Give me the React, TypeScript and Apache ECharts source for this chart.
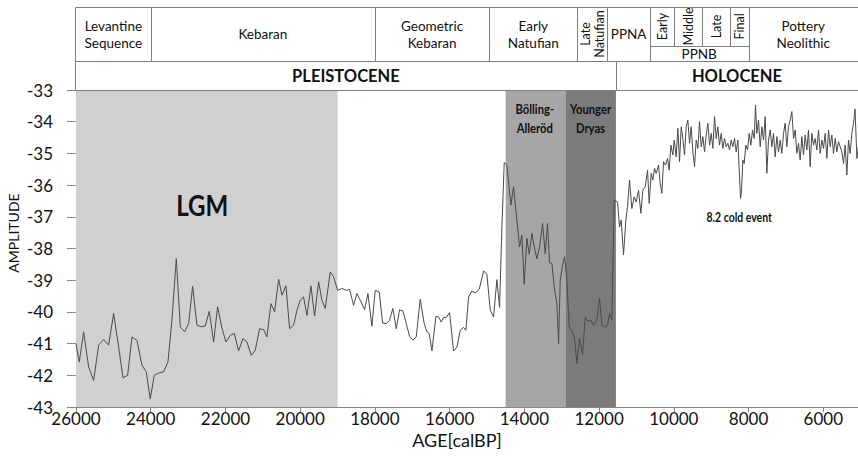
import React, { useEffect, useRef } from "react";
import * as echarts from "echarts";

const AGES = [
  26000, 25912, 25796, 25662, 25528, 25394, 25260, 25127, 24993, 24859, 24743, 24618, 24502, 24368, 24235, 24119,
  24012, 23905, 23789, 23655, 23539, 23432, 23316, 23209, 23093, 22986, 22879, 22763, 22647, 22540, 22433, 22317,
  22210, 22094, 21987, 21871, 21764, 21648, 21532, 21425, 21309, 21202, 21086, 20979, 20890, 20783, 20685, 20577,
  20488, 20381, 20283, 20176, 20087, 19998, 19909, 19819, 19712, 19614, 19507, 19418, 19329, 19195, 19106, 18999,
  18883, 18767, 18678, 18571, 18481, 18374, 18276, 18187, 18080, 17991, 17884, 17795, 17696, 17607, 17518, 17429,
  17340, 17250, 17161, 17072, 16983, 16894, 16787, 16680, 16608, 16546, 16474, 16367, 16296, 16225, 16162, 16091,
  16002, 15895, 15805, 15716, 15627, 15565, 15493, 15404, 15315, 15208, 15092, 15003, 14913, 14824, 14735, 14664,
  14601, 14539, 14468, 14360, 14289, 14218, 14128, 14066, 14004, 13932, 13870, 13798, 13736, 13665, 13593, 13513,
  13442, 13379, 13326, 13263, 13201, 13129, 13085, 13040, 12978, 12924, 12862, 12799, 12728, 12657, 12594, 12523,
  12443, 12371, 12300, 12220, 12148, 12059, 11988, 11925, 11854, 11774, 11720, 11658, 11595, 11506, 11453, 11408,
  11346, 11283, 11239, 11185, 11123, 11060, 11007, 10944, 10882, 10828, 10766, 10703, 10659, 10605, 10561, 10516,
  10471, 10409, 10364, 10320, 10275, 10222, 10168, 10124, 10079, 10025, 9990, 9936, 9892, 9847, 9802, 9758,
  9713, 9669, 9624, 9579, 9535, 9490, 9446, 9401, 9356, 9312, 9267, 9223, 9178, 9133, 9089, 9044,
  8999, 8955, 8910, 8866, 8821, 8777, 8732, 8687, 8643, 8598, 8554, 8509, 8464, 8420, 8375, 8331,
  8286, 8241, 8215, 8188, 8152, 8117, 8072, 8027, 7983, 7938, 7893, 7849, 7813, 7778, 7733, 7688,
  7644, 7599, 7555, 7510, 7466, 7421, 7376, 7332, 7287, 7242, 7198, 7153, 7109, 7064, 7019, 6975,
  6930, 6886, 6841, 6796, 6752, 6707, 6663, 6618, 6573, 6529, 6484, 6440, 6395, 6350, 6306, 6261,
  6217, 6172, 6127, 6083, 6038, 5994, 5949, 5904, 5860, 5815, 5770, 5726, 5681, 5637, 5592, 5547,
  5503, 5458, 5414, 5369, 5324, 5280, 5235, 5191, 5150, 5100, 5060, 5020, 4980,
];

const AMPLITUDE = [
  -41.0, -41.58, -40.63, -41.74, -42.16, -41.05, -40.87, -41.05, -40.05, -41.1, -42.08, -42.0, -40.79, -40.9, -41.68, -41.89,
  -42.74, -42.0, -41.93, -41.89, -41.58, -40.26, -38.32, -40.47, -40.63, -40.37, -39.19, -40.42, -40.47, -40.44, -39.98, -40.95,
  -39.84, -40.51, -40.95, -40.74, -40.68, -41.23, -40.84, -40.95, -41.37, -41.21, -40.53, -40.56, -40.79, -39.74, -40.0, -38.97,
  -39.47, -39.18, -40.53, -40.42, -39.95, -39.63, -39.53, -40.11, -39.18, -40.13, -39.05, -39.63, -39.89, -38.74, -38.89, -39.32,
  -39.26, -39.32, -39.29, -39.79, -39.42, -39.68, -39.93, -39.42, -40.45, -39.32, -39.37, -40.35, -40.37, -40.26, -39.89, -40.53,
  -39.93, -39.97, -40.37, -40.77, -40.89, -40.79, -39.6, -40.37, -40.63, -40.68, -41.23, -40.14, -40.16, -40.32, -40.18, -40.18,
  -40.02, -41.23, -41.11, -40.58, -40.49, -40.58, -39.53, -39.34, -39.4, -39.29, -38.71, -38.81, -39.95, -40.16, -38.98, -39.86,
  -37.32, -35.29, -35.37, -36.63, -36.05, -36.89, -37.95, -37.58, -39.13, -37.68, -38.18, -37.53, -37.95, -38.32, -37.95, -37.21,
  -38.16, -37.21, -38.45, -38.47, -39.21, -39.74, -41.0, -39.0, -38.53, -38.26, -39.0, -40.47, -40.6, -40.84, -41.63, -40.84,
  -41.35, -40.16, -40.29, -40.26, -40.42, -40.24, -39.58, -40.42, -40.47, -40.42, -40.05, -40.26, -36.47, -36.53, -37.32, -37.1,
  -38.2, -37.1, -36.68, -35.84, -36.74, -36.37, -36.53, -36.16, -36.89, -36.16, -36.05, -35.53, -36.58, -35.63, -35.84, -35.47,
  -35.63, -35.37, -35.95, -36.26, -35.26, -35.37, -35.16, -35.53, -34.74, -35.05, -34.58, -35.11, -34.21, -35.26, -34.16, -34.53,
  -35.05, -34.16, -33.95, -34.68, -34.16, -34.95, -35.42, -34.58, -34.84, -34.0, -34.79, -34.47, -34.95, -34.42, -34.05, -34.74,
  -34.37, -34.84, -33.84, -34.53, -34.16, -34.74, -34.37, -34.84, -34.53, -34.79, -34.68, -34.89, -34.58, -34.79, -34.53, -34.95,
  -34.58, -35.74, -36.42, -36.16, -35.21, -35.32, -34.74, -34.89, -34.37, -34.74, -34.26, -34.53, -33.47, -34.37, -33.95, -34.79,
  -34.16, -34.58, -33.84, -35.63, -34.58, -34.26, -34.79, -34.37, -35.11, -34.47, -34.95, -34.58, -35.0, -34.37, -34.05, -34.79,
  -34.16, -33.95, -33.68, -34.53, -34.26, -35.0, -34.68, -35.21, -34.47, -35.05, -34.42, -34.89, -34.26, -35.42, -34.37, -34.74,
  -34.53, -34.89, -34.26, -35.0, -34.58, -34.84, -34.37, -35.16, -34.26, -34.79, -34.42, -35.0, -34.53, -34.95, -34.63, -34.79,
  -34.95, -35.32, -34.74, -35.68, -34.58, -35.0, -34.37, -34.05, -33.6, -35.16, -34.8, -35.1, -34.9,
];

const X_TICK_MIN = 4000;
const X_TICK_MAX = 26000;
const Y_MIN = -43;
const Y_MAX = -33;

const CLIMATE_ZONES = [
  { from: 26000, to: 19000, color: "#d0d0d0" },
  { from: 14500, to: 12900, color: "#a6a6a6" },
  { from: 12900, to: 11550, color: "#7b7b7b" },
];

// header periods (age boundaries)
const CULTURES = [
  { label: "Levantine\nSequence", from: 26000, to: 24000 },
  { label: "Kebaran", from: 24000, to: 18000 },
  { label: "Geometric\nKebaran", from: 18000, to: 14940 },
  { label: "Early\nNatufian", from: 14940, to: 12580 },
  { label: "Late\nNatufian", from: 12580, to: 11780, rotated: true },
  { label: "PPNA", from: 11780, to: 10640 },
  { label: "Pottery\nNeolithic", from: 8000, to: null },
];
const PPNB_PHASES = [
  { label: "Early", from: 10640, to: 9990 },
  { label: "Middle", from: 9990, to: 9240 },
  { label: "Late", from: 9240, to: 8500 },
  { label: "Final", from: 8500, to: 8000 },
];
const EPOCHS = [
  { label: "PLEISTOCENE", from: 26000, to: 11550 },
  { label: "HOLOCENE", from: 11550, to: null },
];
const ANNOTATIONS = [
  { text: "LGM", age: 22620, value: -36.63, size: 28, scale: 0.86 },
  { text: "Bölling-\nAlleröd", age: 13720, value: -33.9, size: 12.5, scale: 0.9, lh: 19 },
  { text: "Younger\nDryas", age: 12230, value: -33.9, size: 12.5, scale: 0.9, lh: 19 },
  { text: "8.2 cold event", age: 8250, value: -37.0, size: 12.5, scale: 0.84 },
];

const FONT = "Lato, 'Open Sans', sans-serif";
const LINE_COLOR = "#808080";
const VIEW_W = 858;
const CHART_W = 900;

export default function App() {
  const ref = useRef<HTMLDivElement>(null);

  useEffect(() => {
    if (!ref.current) return;
    const chart = echarts.init(ref.current, undefined, { renderer: "svg" });
    const data = AGES.map((a, i) => [a, AMPLITUDE[i]]);

    chart.setOption({
      animation: false,
      grid: {
        left: 76,
        right: 2,
        top: 90,
        bottom: 49,
        containLabel: false,
        outerBoundsMode: "none",
      },
      xAxis: {
        type: "value",
        inverse: true,
        min: X_TICK_MIN,
        max: X_TICK_MAX,
        interval: 2000,
        axisLine: { show: true, lineStyle: { color: "#868686", width: 1 } },
        axisTick: { show: true, length: 5, lineStyle: { color: "#868686" } },
        splitLine: { show: false },
        axisLabel: {
          margin: 3,
          color: "#111",
          fontFamily: FONT,
          fontSize: 17,
          formatter: (v: number) => (v === X_TICK_MIN ? "" : String(v)),
        },
      },
      yAxis: {
        type: "value",
        min: Y_MIN,
        max: Y_MAX,
        interval: 1,
        axisLine: { show: true, lineStyle: { color: "#868686", width: 1 } },
        axisTick: { show: true, length: 9, lineStyle: { color: "#868686" } },
        splitLine: { show: false },
        axisLabel: {
          margin: 23,
          color: "#111",
          fontFamily: FONT,
          fontSize: 17,
          formatter: (v: number) => String(v),
        },
      },
      series: [
        {
          type: "line",
          data: [],
          z: 1,
          silent: true,
          markArea: {
            silent: true,
            data: CLIMATE_ZONES.map((z) => [
              { xAxis: z.from, itemStyle: { color: z.color, opacity: 1 } },
              { xAxis: z.to },
            ]),
          },
        },
        {
          type: "line",
          data,
          z: 3,
          showSymbol: false,
          symbol: "none",
          lineStyle: { color: "#4a4a4a", width: 1 },
        },
      ],
    });

    const W = VIEW_W;
    const px = (age: number | null) =>
      age === null ? W : (chart.convertToPixel({ xAxisIndex: 0 }, age) as number);
    const py = (v: number) => chart.convertToPixel({ yAxisIndex: 0 }, v) as number;
    const r = (x: number) => Math.round(x) + 0.5;

    const top = 7.5;
    const rowLine = 61.5;
    const subLine = 46.5;
    const bottom = 90.5;
    const left = r(px(26000)) - 1;
    const right = CHART_W + 20;
    const stroke = { stroke: LINE_COLOR, lineWidth: 1 };

    const g: any[] = [];
    g.push({
      type: "rect",
      z: 10,
      shape: { x: left, y: top, width: right - left, height: bottom - top },
      style: { fill: "#fff", ...stroke },
    });
    g.push({ type: "line", z: 11, shape: { x1: left, y1: rowLine, x2: right, y2: rowLine }, style: stroke });

    const vline = (age: number, y1: number, y2: number) =>
      g.push({ type: "line", z: 11, shape: { x1: r(px(age)), y1, x2: r(px(age)), y2 }, style: stroke });

    CULTURES.forEach((c, i) => {
      if (i > 0) vline(c.from, top, rowLine);
    });
    vline(10640, top, rowLine);
    PPNB_PHASES.forEach((p, i) => {
      if (i > 0) vline(p.from, top, subLine);
    });
    g.push({
      type: "line",
      z: 11,
      shape: { x1: r(px(10640)), y1: subLine, x2: r(px(8000)), y2: subLine },
      style: stroke,
    });
    vline(11550, rowLine, bottom);

    const text = (
      t: string,
      x: number,
      y: number,
      size: number,
      opts: { bold?: boolean; rot?: number; scale?: number; lh?: number } = {}
    ) =>
      g.push({
        type: "text",
        z: 12,
        x,
        y,
        rotation: opts.rot || 0,
        scaleX: opts.scale || 1,
        style: {
          text: t,
          fill: "#111",
          font: `${opts.bold ? "bold " : ""}${size}px ${FONT}`,
          fontSize: size,
          fontFamily: FONT,
          fontWeight: opts.bold ? "bold" : "normal",
          lineHeight: opts.lh || Math.round(size * 1.3),
          textAlign: "center",
          align: "center",
          textVerticalAlign: "middle",
          verticalAlign: "middle",
        },
      });

    CULTURES.forEach((c) => {
      const cx = (px(c.from) + px(c.to)) / 2;
      if (c.rotated) text(c.label, cx, 34, 12.5, { rot: Math.PI / 2, lh: 14 });
      else text(c.label, cx, 34, 13.5, { lh: 17 });
    });
    PPNB_PHASES.forEach((p) => {
      text(p.label, (px(p.from) + px(p.to)) / 2, 26.5, 12.5, { rot: Math.PI / 2 });
    });
    text("PPNB", (px(10640) + px(8000)) / 2, 54, 13.5);
    EPOCHS.forEach((e) => {
      text(e.label, (px(e.from) + px(e.to)) / 2, 75.5, 16.5, { bold: true });
    });

    ANNOTATIONS.forEach((a) => {
      text(a.text, px(a.age), py(a.value), a.size, { bold: true, scale: a.scale, lh: a.lh });
    });

    text("AMPLITUDE", 13, 233, 14, { rot: Math.PI / 2 });
    text("AGE[calBP]", 457, 440, 18);

    chart.setOption({ graphic: g });

    return () => chart.dispose();
  }, []);

  return (
    <div
      ref={ref}
      style={{ position: "fixed", left: 0, top: 0, width: CHART_W, height: 456, background: "#fff" }}
    />
  );
}
